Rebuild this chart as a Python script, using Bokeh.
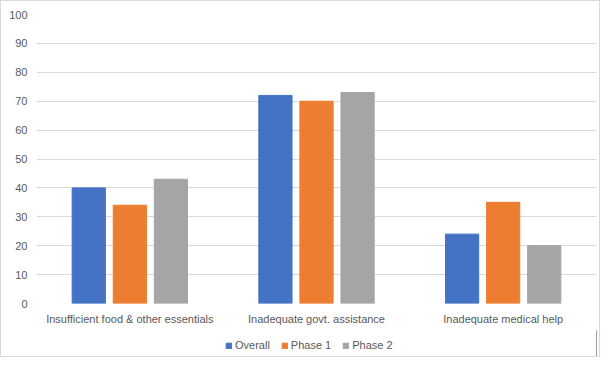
from bokeh.plotting import figure
from bokeh.models import ColumnDataSource, FactorRange, Range1d, Legend, LegendItem
from bokeh.layouts import column
from bokeh.transform import dodge
from bokeh.embed import file_html
from bokeh.resources import INLINE

categories = ["Insufficient food & other essentials", "Inadequate govt. assistance", "Inadequate medical help"]
series_names = ["Overall", "Phase 1", "Phase 2"]
overall = [40, 72, 24]
phase1 = [34, 70, 35]
phase2 = [43, 73, 20]
y_ticks = [0, 10, 20, 30, 40, 50, 60, 70, 80, 90, 100]
colors = ["#4472c4", "#ed7d31", "#a5a5a5"]

FONT = "Liberation Sans"
TXT = "#595959"

src = ColumnDataSource(dict(cat=categories, overall=overall, phase1=phase1, phase2=phase2))

p = figure(width=598, height=329, x_range=FactorRange(*categories), y_range=Range1d(0, 100),
           output_backend="svg", toolbar_location=None,
           min_border_left=35, min_border_right=3, min_border_top=13, min_border_bottom=27)
p.outline_line_color = None

w = 0.178
off = 0.22
for key, o, c in zip(["overall", "phase1", "phase2"], [-off, 0, off], colors):
    p.vbar(x=dodge("cat", o, range=p.x_range), top=key, width=w, source=src, color=c)

p.yaxis.ticker = y_ticks
p.ygrid.grid_line_color = "#d9d9d9"
p.xgrid.grid_line_color = None
for ax in (p.xaxis, p.yaxis):
    ax.axis_line_color = None
    ax.major_tick_line_color = None
    ax.minor_tick_line_color = None
    ax.major_label_text_font = FONT
    ax.major_label_text_font_size = "11px"
    ax.major_label_text_color = TXT
p.xaxis.major_label_standoff = 3
p.yaxis.major_label_standoff = 3

# legend strip
lg = figure(width=598, height=26, output_backend="svg", toolbar_location=None,
            x_range=Range1d(0, 1), y_range=Range1d(0, 1),
            min_border_left=0, min_border_right=0, min_border_top=0, min_border_bottom=0)
lg.axis.visible = False
lg.grid.visible = False
lg.outline_line_color = None
dummy = ColumnDataSource(dict(x=[5], top=[1]))
items = []
for name, c in zip(series_names, colors):
    r = lg.vbar(x="x", top="top", width=0.1, source=dummy, color=c)
    items.append(LegendItem(label=name, renderers=[r]))
legend = Legend(items=items, orientation="horizontal", location=(189, 5),
                glyph_width=7, glyph_height=7, label_text_font=FONT, label_text_font_size="11px",
                label_text_color=TXT, spacing=11, label_standoff=3, padding=0, margin=0,
                border_line_color=None, background_fill_alpha=0)
lg.add_layout(legend)

layout = column(p, lg, spacing=0)
layout.styles = {"border": "1px solid #d9d9d9"}
open("out.html", "w").write(file_html(layout, INLINE))
